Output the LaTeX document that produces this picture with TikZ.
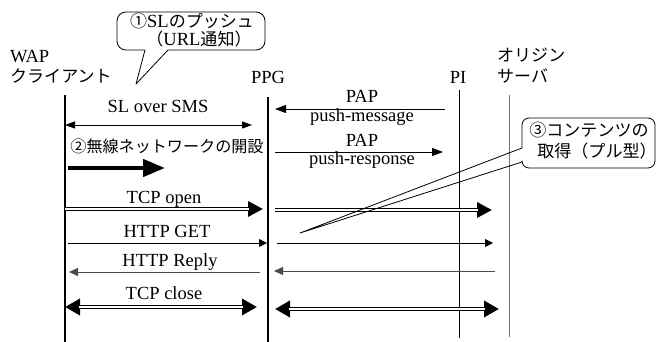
\documentclass[tikz,border=0pt]{standalone}
\usepackage{fontspec}
\setmainfont{Liberation Serif}
\newfontfamily\jp[Scale=0.92]{Noto Sans CJK JP}
\usetikzlibrary{arrows.meta}

\tikzset{
  lifeline/.style={draw=black,line width=1.2pt},
  msg/.style={line width=0.9pt,-{Triangle[length=11pt,width=8pt]}},
  smallmsg/.style={line width=0.9pt,{Triangle[length=10pt,width=7pt]}-{Triangle[length=10pt,width=7pt]}},
  tcpmsg/.style={line width=3.4pt,-{Triangle[length=15pt,width=15pt]},
    postaction={draw=white,line width=1.4pt,-,shorten >=14pt}},
  tcpboth/.style={line width=3.4pt,{Triangle[length=15pt,width=16pt]}-{Triangle[length=15pt,width=16pt]},
    postaction={draw=white,line width=1.4pt,-,shorten >=14pt,shorten <=14pt}},
  bigarrow/.style={line width=4.5pt,-{Triangle[length=22pt,width=17pt]}},
  balloon/.style={draw=black,line width=0.8pt,line join=round},
  balloontext/.style={inner sep=0pt,text height=12pt,text depth=2pt}
}

\begin{document}
\begin{tikzpicture}[x=1pt,y=-1pt,font=\fontsize{18.5}{21}\selectfont]
\useasboundingbox (0,0) rectangle (657,342);

% lifeline heads
\node[anchor=base west,inner sep=0pt] (wap) at (10,63) {WAP};
\node[anchor=west,inner sep=0pt] (client) at (10,76) {\jp クライアント};
\node[anchor=base,inner sep=0pt] (ppg) at (268,84) {PPG};
\node[anchor=base,inner sep=0pt] (pi) at (458,84) {PI};
\node[anchor=west,inner sep=0pt] (origin) at (497,55) {\jp オリジン};
\node[anchor=west,inner sep=0pt] (server) at (497,76) {\jp サーバ};

% lifelines
\coordinate (wapTop) at (65,95);     \coordinate (wapBot) at (65,342);
\coordinate (ppgTop) at (268,97);    \coordinate (ppgBot) at (268,342);
\coordinate (piTop) at (459,90);     \coordinate (piBot) at (459,338);
\coordinate (orgTop) at (509,95);    \coordinate (orgBot) at (509,337);
\draw[lifeline] (wapTop) -- (wapBot);
\draw[lifeline] (ppgTop) -- (ppgBot);
\draw[lifeline,line width=1pt] (piTop) -- (piBot);
\draw[lifeline,draw=black!55,line width=0.8pt] (orgTop) -- (orgBot);

% message end points
\coordinate (slL) at (65,125);   \coordinate (slR) at (252,125);
\coordinate (pmR) at (445,109);  \coordinate (pmL) at (275,109);
\coordinate (prL) at (275,152);  \coordinate (prR) at (443,152);
\coordinate (nwL) at (68,168);   \coordinate (nwR) at (165,168);
\coordinate (toL) at (65,209);   \coordinate (toR) at (263,209);
\coordinate (toL2) at (275,210); \coordinate (toR2) at (492,210);
\coordinate (hgL) at (68,243);   \coordinate (hgR) at (267,243);
\coordinate (hgL2) at (277,243); \coordinate (hgR2) at (493,243);
\coordinate (hrR) at (260,272);  \coordinate (hrL) at (69,272);
\coordinate (hrR2) at (495,271); \coordinate (hrL2) at (274,271);
\coordinate (tcL) at (65,307);   \coordinate (tcR) at (257,307);
\coordinate (tcL2) at (275,309); \coordinate (tcR2) at (499,309);

% messages
\draw[smallmsg] (slL) -- (slR);
\draw[msg] (pmR) -- (pmL);
\draw[msg] (prL) -- (prR);
\draw[bigarrow] (nwL) -- (nwR);
\draw[tcpmsg] (toL) -- (toR);
\draw[tcpmsg] (toL2) -- (toR2);
\draw[msg,-{Triangle[length=8pt,width=8pt]}] (hgL) -- (hgR);
\draw[msg,-{Triangle[length=8pt,width=8pt]}] (hgL2) -- (hgR2);
\draw[msg,draw=black!70,line width=0.8pt,-{Triangle[length=9pt,width=8pt]}] (hrR) -- (hrL);
\draw[msg,draw=black!70,line width=0.8pt,-{Triangle[length=9pt,width=8pt]}] (hrR2) -- (hrL2);
\draw[tcpboth] (tcL) -- (tcR);
\draw[tcpboth] (tcL2) -- (tcR2);

% message labels
\node[anchor=base] (slText) at (158,113) {SL over SMS};
\node[anchor=base] (pap1) at (362,103) {PAP};
\node[anchor=base] (pushMsg) at (362,122) {push-message};
\node[anchor=base] (pap2) at (362,147) {PAP};
\node[anchor=base] (pushRes) at (362,165) {push-response};
\node (network) at (167,146) {\jp\fontsize{17.5}{20}\selectfont ②無線ネットワークの開設};
\node[anchor=base] (tcpOpen) at (164,204) {TCP open};
\node[anchor=base] (httpGet) at (167,238) {HTTP GET};
\node[anchor=base] (httpReply) at (170,267) {HTTP Reply};
\node[anchor=base] (tcpClose) at (164,300) {TCP close};

% balloon 1
\coordinate (tip1) at (136,84);
\draw[balloon,rounded corners=9pt] (168,50) -- (265,50) -- (265,12) -- (117,12) -- (117,50) -- (145,50);
\draw[balloon] (145,50) -- (tip1) -- (168,50);
\node[balloontext] (push1) at (192,23) {{\jp ①}SL{\jp のプッシュ}};
\node[balloontext] (push2) at (199,41) {{\jp （}URL{\jp 通知）}};

% balloon 3
\coordinate (tip3) at (300,233);
\draw[balloon,rounded corners=7pt] (522,162) -- (522,168) -- (655,168) -- (655,118) -- (522,118) -- (522,148);
\draw[balloon] (522,148) -- (tip3) -- (522,162);
\node[balloontext] (pull1) at (589,132) {\jp ③コンテンツの};
\node[balloontext] (pull2) at (597,153) {\jp 取得（プル型）};

\end{tikzpicture}
\end{document}
